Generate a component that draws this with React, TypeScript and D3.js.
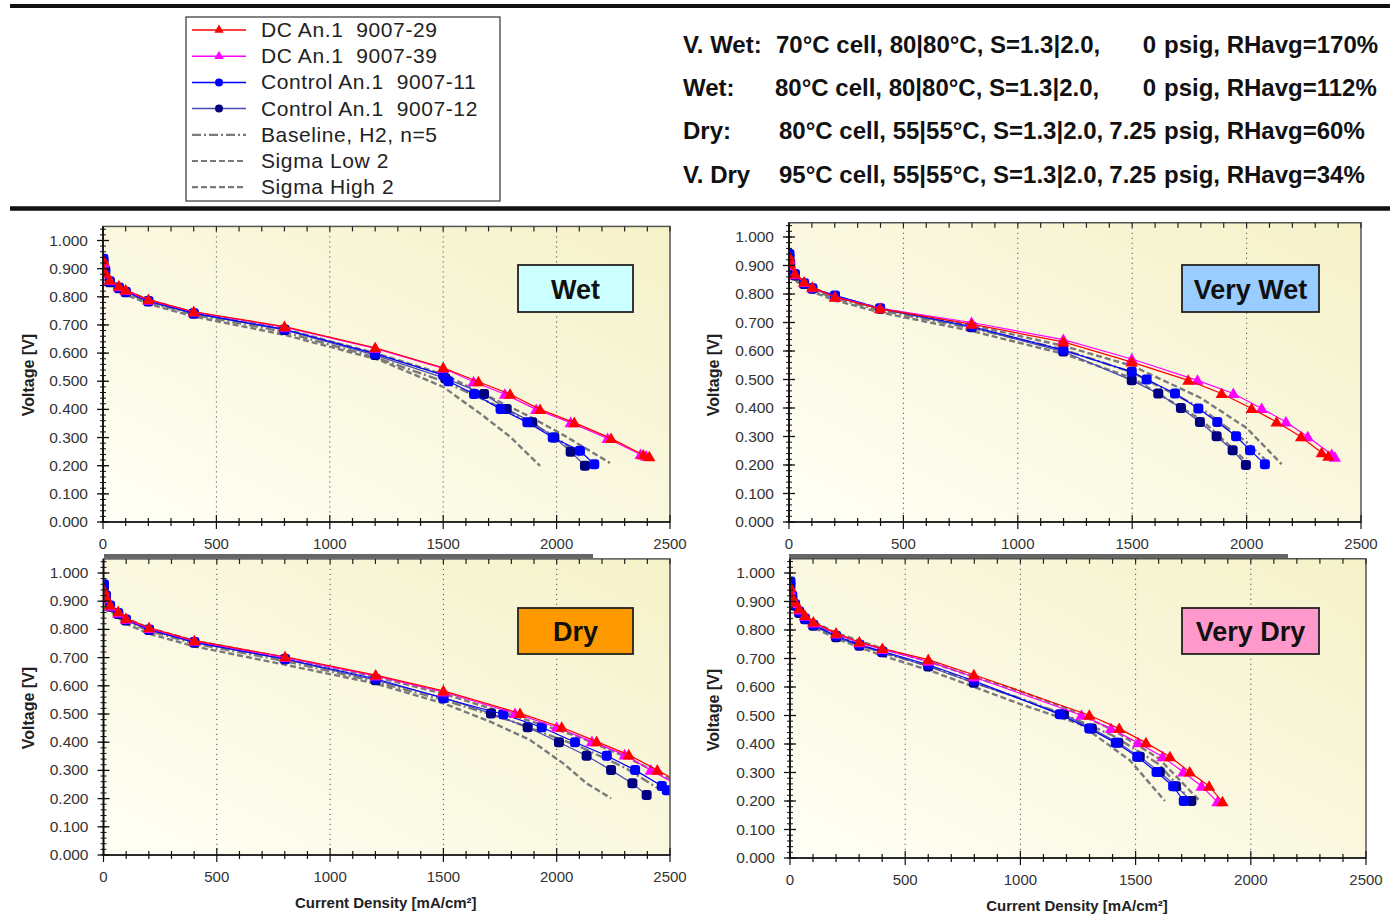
import React from 'react'
import * as d3 from 'd3'

type Pt = [number, number]

// current density [mA/cm²], voltage [V]

// Wet
const wetDC29: Pt[] = [[2, 0.93], [10, 0.885], [30, 0.86], [70, 0.838], [100, 0.824], [200, 0.79], [400, 0.747], [800, 0.694], [1200, 0.619], [1500, 0.548], [1655, 0.498], [1795, 0.454], [1927, 0.4], [2078, 0.353], [2240, 0.297], [2382, 0.238], [2409, 0.232]]
const wetDC39: Pt[] = [[2, 0.92], [10, 0.882], [30, 0.858], [70, 0.836], [100, 0.822], [200, 0.788], [400, 0.746], [800, 0.692], [1200, 0.617], [1500, 0.546], [1634, 0.498], [1772, 0.454], [1910, 0.4], [2062, 0.353], [2225, 0.297], [2370, 0.24], [2395, 0.234]]
const wetC11: Pt[] = [[2, 0.935], [10, 0.895], [30, 0.855], [70, 0.833], [100, 0.818], [200, 0.785], [400, 0.742], [800, 0.684], [1200, 0.598], [1500, 0.522], [1523, 0.5], [1636, 0.455], [1753, 0.401], [1871, 0.354], [1983, 0.3], [2103, 0.253], [2166, 0.205]]
const wetC12: Pt[] = [[2, 0.925], [10, 0.89], [30, 0.852], [70, 0.83], [100, 0.816], [200, 0.783], [400, 0.74], [800, 0.682], [1200, 0.593], [1510, 0.51], [1680, 0.455], [1780, 0.401], [1893, 0.354], [1990, 0.3], [2062, 0.25], [2125, 0.2]]
const wetBase: Pt[] = [[0, 0.93], [10, 0.88], [50, 0.84], [100, 0.815], [200, 0.782], [400, 0.737], [800, 0.675], [1200, 0.585], [1500, 0.5], [1800, 0.39], [2000, 0.3], [2100, 0.235]]
const wetSigLo: Pt[] = [[0, 0.92], [10, 0.87], [50, 0.83], [100, 0.808], [200, 0.775], [400, 0.73], [800, 0.665], [1221, 0.575], [1500, 0.48], [1662, 0.386], [1795, 0.303], [1927, 0.199]]
const wetSigHi: Pt[] = [[0, 0.94], [10, 0.89], [50, 0.85], [100, 0.822], [200, 0.789], [400, 0.744], [800, 0.685], [1200, 0.6], [1500, 0.525], [1883, 0.374], [2030, 0.309], [2235, 0.21]]

// Very Wet
const vwetDC29: Pt[] = [[2, 0.93], [5, 0.906], [26, 0.871], [66, 0.842], [102, 0.824], [201, 0.789], [398, 0.748], [798, 0.694], [1199, 0.632], [1498, 0.561], [1745, 0.497], [1891, 0.451], [2022, 0.398], [2131, 0.351], [2238, 0.299], [2328, 0.243], [2357, 0.231]]
const vwetDC39: Pt[] = [[2, 0.92], [5, 0.9], [26, 0.868], [66, 0.84], [102, 0.822], [201, 0.79], [398, 0.75], [798, 0.7], [1199, 0.64], [1498, 0.572], [1785, 0.497], [1942, 0.451], [2066, 0.398], [2172, 0.351], [2267, 0.299], [2372, 0.237], [2386, 0.227]]
const vwetC11: Pt[] = [[2, 0.94], [5, 0.91], [26, 0.87], [66, 0.838], [102, 0.82], [201, 0.795], [398, 0.75], [798, 0.686], [1199, 0.603], [1498, 0.527], [1563, 0.5], [1687, 0.451], [1789, 0.398], [1872, 0.351], [1954, 0.301], [2015, 0.252], [2080, 0.203]]
const vwetC12: Pt[] = [[2, 0.93], [5, 0.9], [26, 0.865], [66, 0.835], [102, 0.818], [201, 0.792], [398, 0.748], [798, 0.683], [1199, 0.598], [1498, 0.497], [1614, 0.451], [1713, 0.4], [1796, 0.351], [1869, 0.301], [1939, 0.252], [1997, 0.2]]
const vwetBase: Pt[] = [[0, 0.92], [10, 0.875], [50, 0.84], [100, 0.815], [200, 0.785], [400, 0.742], [800, 0.68], [1200, 0.605], [1500, 0.525], [1800, 0.4], [2000, 0.28], [2080, 0.22]]
const vwetSigLo: Pt[] = [[0, 0.91], [10, 0.865], [50, 0.83], [100, 0.808], [200, 0.778], [400, 0.735], [800, 0.67], [1200, 0.59], [1500, 0.505], [1800, 0.36], [1950, 0.25], [2000, 0.21]]
const vwetSigHi: Pt[] = [[0, 0.93], [10, 0.885], [50, 0.85], [100, 0.822], [200, 0.792], [400, 0.749], [800, 0.69], [1200, 0.618], [1500, 0.548], [1800, 0.435], [2000, 0.33], [2153, 0.203]]

// Dry
const dryDC29: Pt[] = [[2, 0.94], [11, 0.916], [29, 0.887], [65, 0.863], [99, 0.839], [201, 0.806], [401, 0.76], [801, 0.703], [1201, 0.638], [1500, 0.582], [1838, 0.502], [2022, 0.453], [2176, 0.402], [2318, 0.355], [2444, 0.301], [2560, 0.25]]
const dryDC39: Pt[] = [[2, 0.935], [11, 0.91], [29, 0.882], [65, 0.858], [99, 0.836], [201, 0.803], [401, 0.758], [801, 0.7], [1201, 0.635], [1500, 0.578], [1816, 0.502], [2000, 0.453], [2155, 0.402], [2300, 0.355], [2415, 0.301], [2530, 0.25]]
const dryC11: Pt[] = [[2, 0.96], [11, 0.92], [29, 0.885], [65, 0.858], [99, 0.835], [201, 0.8], [401, 0.755], [801, 0.695], [1201, 0.625], [1500, 0.556], [1764, 0.499], [1934, 0.453], [2081, 0.4], [2221, 0.352], [2346, 0.301], [2464, 0.245], [2486, 0.23]]
const dryC12: Pt[] = [[2, 0.95], [11, 0.915], [29, 0.88], [65, 0.855], [99, 0.832], [201, 0.798], [401, 0.753], [801, 0.694], [1201, 0.62], [1500, 0.558], [1710, 0.502], [1872, 0.453], [2010, 0.4], [2132, 0.352], [2240, 0.301], [2334, 0.254], [2397, 0.213]]
const dryBase: Pt[] = [[0, 0.93], [10, 0.9], [50, 0.86], [100, 0.83], [200, 0.795], [400, 0.75], [800, 0.688], [1200, 0.615], [1500, 0.55], [1800, 0.475], [2100, 0.385], [2300, 0.31], [2450, 0.235]]
const drySigLo: Pt[] = [[0, 0.92], [10, 0.89], [50, 0.85], [100, 0.82], [200, 0.785], [400, 0.74], [800, 0.675], [1200, 0.608], [1500, 0.538], [1700, 0.475], [1882, 0.408], [2029, 0.325], [2132, 0.254], [2240, 0.201]]
const drySigHi: Pt[] = [[0, 0.945], [10, 0.91], [50, 0.87], [100, 0.84], [200, 0.805], [400, 0.76], [800, 0.7], [1200, 0.632], [1500, 0.572], [1800, 0.497], [2100, 0.418], [2300, 0.35], [2500, 0.27]]

// Very Dry
const vdryDC29: Pt[] = [[2, 0.95], [10, 0.915], [22, 0.898], [40, 0.875], [65, 0.851], [101, 0.828], [200, 0.789], [301, 0.758], [401, 0.735], [600, 0.696], [798, 0.643], [1299, 0.501], [1429, 0.454], [1545, 0.404], [1649, 0.355], [1735, 0.302], [1819, 0.252], [1877, 0.197]]
const vdryDC39: Pt[] = [[2, 0.94], [10, 0.91], [22, 0.893], [40, 0.87], [65, 0.848], [101, 0.825], [200, 0.786], [301, 0.755], [401, 0.732], [600, 0.69], [798, 0.635], [1265, 0.501], [1393, 0.454], [1511, 0.404], [1617, 0.355], [1707, 0.302], [1786, 0.252], [1855, 0.197]]
const vdryC11: Pt[] = [[2, 0.97], [10, 0.92], [22, 0.89], [40, 0.865], [65, 0.84], [101, 0.818], [200, 0.78], [301, 0.748], [401, 0.725], [600, 0.678], [798, 0.622], [1171, 0.504], [1299, 0.454], [1414, 0.404], [1507, 0.355], [1591, 0.302], [1663, 0.252], [1709, 0.2]]
const vdryC12: Pt[] = [[2, 0.955], [10, 0.91], [22, 0.885], [40, 0.86], [65, 0.838], [101, 0.815], [200, 0.775], [301, 0.745], [401, 0.722], [600, 0.672], [798, 0.615], [1189, 0.504], [1310, 0.454], [1425, 0.404], [1518, 0.355], [1605, 0.302], [1675, 0.252], [1742, 0.2]]
const vdryBase: Pt[] = [[0, 0.94], [10, 0.9], [50, 0.85], [100, 0.82], [200, 0.78], [400, 0.72], [600, 0.675], [800, 0.615], [1000, 0.56], [1200, 0.5], [1400, 0.43], [1600, 0.33], [1720, 0.22]]
const vdrySigLo: Pt[] = [[0, 0.93], [10, 0.89], [50, 0.84], [100, 0.81], [200, 0.77], [400, 0.71], [600, 0.66], [800, 0.6], [1000, 0.54], [1258, 0.47], [1475, 0.343], [1627, 0.2]]
const vdrySigHi: Pt[] = [[0, 0.95], [10, 0.905], [50, 0.86], [100, 0.83], [200, 0.79], [400, 0.735], [600, 0.69], [800, 0.635], [1000, 0.585], [1200, 0.525], [1400, 0.45], [1600, 0.35], [1779, 0.2]]

const xTicks = [0, 500, 1000, 1500, 2000, 2500]
const xGrid = [500, 1000, 1500, 2000]
const yTicks = d3.range(0, 11).map(i => i / 10)

const legendLabels = ['DC An.1  9007-29', 'DC An.1  9007-39', 'Control An.1  9007-11', 'Control An.1  9007-12', 'Baseline, H2, n=5', 'Sigma Low 2', 'Sigma High 2']

const condLabels = ['V. Wet:', 'Wet:', 'Dry:', 'V. Dry']
const condCells = ['70°C cell, 80|80°C, S=1.3|2.0,', '80°C cell, 80|80°C, S=1.3|2.0,', '80°C cell, 55|55°C, S=1.3|2.0,', '95°C cell, 55|55°C, S=1.3|2.0,']
const condPsig = ['0', '0', '7.25', '7.25']
const condRH = ['psig, RHavg=170%', 'psig, RHavg=112%', 'psig, RHavg=60%', 'psig, RHavg=34%']

// series styles, in drawing order: sigma low, sigma high, baseline, ctrl-12, ctrl-11, dc-39, dc-29
const styles = [
  { stroke: '#7a7a7a', width: 2.4, dash: '6,3', marker: null, fill: '' },
  { stroke: '#7a7a7a', width: 2.4, dash: '6,3', marker: null, fill: '' },
  { stroke: '#7a7a7a', width: 2.4, dash: '9,3,2,3', marker: null, fill: '' },
  { stroke: '#4848b0', width: 1.2, dash: null, marker: 'sq', fill: '#000080' },
  { stroke: '#0000ff', width: 1.2, dash: null, marker: 'sq', fill: '#0000ff' },
  { stroke: '#ff00ff', width: 1.2, dash: null, marker: 'tri', fill: '#ff00ff' },
  { stroke: '#ff0000', width: 1.2, dash: null, marker: 'tri', fill: '#ff0000' },
]
// legend rows map onto the style list
const legendOrder = [6, 5, 4, 3, 2, 0, 1]

const panels = [
  { id: 'wet', name: 'Wet', fill: '#ccffff', x0: 103, x1: 670, y0: 522, y1: 240.5, tickY: 549, box: [518, 265, 115, 47], titleX: 28, titleY: 375, xTitleY: 0, series: [wetSigLo, wetSigHi, wetBase, wetC12, wetC11, wetDC39, wetDC29] },
  { id: 'vwet', name: 'Very Wet', fill: '#99ccff', x0: 789, x1: 1361, y0: 522, y1: 237, tickY: 549, box: [1182, 265, 137, 47], titleX: 713, titleY: 375, xTitleY: 0, series: [vwetSigLo, vwetSigHi, vwetBase, vwetC12, vwetC11, vwetDC39, vwetDC29] },
  { id: 'dry', name: 'Dry', fill: '#ff9900', x0: 103.5, x1: 670, y0: 855, y1: 573, tickY: 882, box: [518, 608, 115, 46], titleX: 28, titleY: 708, xTitleY: 908, series: [drySigLo, drySigHi, dryBase, dryC12, dryC11, dryDC39, dryDC29] },
  { id: 'vdry', name: 'Very Dry', fill: '#ff99cc', x0: 790, x1: 1366, y0: 858, y1: 573, tickY: 885, box: [1182, 608, 137, 46], titleX: 713, titleY: 710, xTitleY: 911, series: [vdrySigLo, vdrySigHi, vdryBase, vdryC12, vdryC11, vdryDC39, vdryDC29] },
]

const font = 'Liberation Sans, Arial, sans-serif'
const tri = d3.symbol(d3.symbolTriangle, 64)()
const legendTri = d3.symbol(d3.symbolTriangle, 38)()

function Marker({ kind, fill, cx, cy }: { kind: string, fill: string, cx: number, cy: number }) {
  if (kind === 'tri') return <path d={tri || ''} transform={`translate(${cx},${cy + 1})`} fill={fill} />
  return <rect x={cx - 5} y={cy - 5} width={10} height={10} rx={3} fill={fill} />
}

function Panel({ p }: { p: typeof panels[0] }) {
  const x = d3.scaleLinear().domain([0, 2500]).range([p.x0, p.x1])
  const y = d3.scaleLinear().domain([0, 1]).range([p.y0, p.y1])
  const top = y(1.05)
  const line = d3.line<Pt>().x(d => x(d[0])).y(d => y(d[1]))
  const minorX = d3.range(0, 2501, 100)
  const minorY = d3.range(0, 53).map(i => i * 0.02).filter(v => v <= 1.05)
  return (
    <g>
      <defs>
        <clipPath id={`clip-${p.id}`}>
          <rect x={p.x0} y={top} width={p.x1 - p.x0} height={p.y0 - top} />
        </clipPath>
      </defs>
      <rect x={p.x0} y={top} width={p.x1 - p.x0} height={p.y0 - top} fill="url(#bg)" />
      {xGrid.map(t => (
        <line key={t} x1={x(t)} x2={x(t)} y1={top} y2={p.y0} stroke="#333" strokeWidth={1} strokeDasharray="1,4" />
      ))}
      <g clipPath={`url(#clip-${p.id})`}>
        {p.series.map((s, i) => {
          const st = styles[i]
          return (
            <g key={i}>
              <path d={line(s) || ''} fill="none" stroke={st.stroke} strokeWidth={st.width} strokeDasharray={st.dash || undefined} />
              {st.marker && s.map((d, j) => (
                <Marker key={j} kind={st.marker as string} fill={st.fill} cx={x(d[0])} cy={y(d[1])} />
              ))}
            </g>
          )
        })}
      </g>
      <rect x={p.x0} y={top} width={p.x1 - p.x0} height={p.y0 - top} fill="none" stroke="#555" strokeWidth={1.5} />
      {/* top edge ticks */}
      {minorX.map(t => (
        <line key={'tt' + t} x1={x(t)} x2={x(t)} y1={top} y2={top + 5} stroke="#222" strokeWidth={1.2} />
      ))}
      {/* x axis */}
      <line x1={p.x0} x2={p.x1} y1={p.y0} y2={p.y0} stroke="#111" strokeWidth={1.6} />
      {minorX.map(t => (
        <line key={'bx' + t} x1={x(t)} x2={x(t)} y1={p.y0 - (t % 500 === 0 ? 7 : 4)} y2={p.y0 + (t % 500 === 0 ? 7 : 4)} stroke="#111" strokeWidth={1.2} />
      ))}
      {xTicks.map(t => (
        <text key={'xl' + t} x={x(t)} y={p.tickY} textAnchor="middle" fontFamily={font} fontSize={15} fill="#333">{t}</text>
      ))}
      {/* y axis */}
      <line x1={p.x0} x2={p.x0} y1={top} y2={p.y0} stroke="#111" strokeWidth={1.8} />
      {minorY.map((t, i) => (
        <line key={'my' + i} x1={p.x0 - 3} x2={p.x0 + 3} y1={y(t)} y2={y(t)} stroke="#111" strokeWidth={1} />
      ))}
      {yTicks.map(t => (
        <line key={'My' + t} x1={p.x0 - 6} x2={p.x0 + 6} y1={y(t)} y2={y(t)} stroke="#111" strokeWidth={1.3} />
      ))}
      {yTicks.map(t => (
        <text key={'yl' + t} x={p.x0 - 15} y={y(t) + 5} textAnchor="end" fontFamily={font} fontSize={15.5} fill="#333">{d3.format('.3f')(t)}</text>
      ))}
      <text transform={`translate(${p.titleX},${p.titleY}) rotate(-90)`} textAnchor="middle" dominantBaseline="central" fontFamily={font} fontWeight="bold" fontSize={16} fill="#222">Voltage [V]</text>
      {p.xTitleY > 0 && (
        <text x={(p.x0 + p.x1) / 2 - 1} y={p.xTitleY} textAnchor="middle" fontFamily={font} fontWeight="bold" fontSize={15} fill="#222">Current Density [mA/cm²]</text>
      )}
      <rect x={p.box[0]} y={p.box[1]} width={p.box[2]} height={p.box[3]} fill={p.fill} stroke="#222" strokeWidth={1.8} />
      <text x={p.box[0] + p.box[2] / 2} y={p.box[1] + p.box[3] / 2 + 10} textAnchor="middle" fontFamily={font} fontWeight="bold" fontSize={27} fill="#111">{p.name}</text>
    </g>
  )
}

function Legend() {
  const rowY = (i: number) => 30 + i * 26.2
  return (
    <g>
      <rect x={186} y={17} width={314} height={184} fill="#fff" stroke="#333" strokeWidth={1.2} />
      {legendLabels.map((lab, i) => {
        const s = styles[legendOrder[i]]
        const yy = rowY(i)
        return (
          <g key={lab}>
            <line x1={192} x2={246} y1={yy} y2={yy} stroke={s.stroke} strokeWidth={s.marker ? 1.5 : 2.2} strokeDasharray={s.dash || undefined} />
            {s.marker === 'tri' && <path d={legendTri || ''} transform={`translate(219,${yy})`} fill={s.fill} />}
            {s.marker === 'sq' && <circle cx={219} cy={yy} r={4} fill={s.fill} />}
            <text x={261} y={yy + 7} fontFamily={font} fontSize={21} letterSpacing={0.6} fill="#222" style={{ whiteSpace: 'pre' }}>{lab}</text>
          </g>
        )
      })}
    </g>
  )
}

function Conditions() {
  const rows = [52.5, 95.5, 138.5, 182.5]
  const cellX = [776, 775, 779, 779]
  return (
    <g fontFamily={font} fontWeight="bold" fontSize={24} fill="#111">
      {rows.map((yy, i) => (
        <g key={i}>
          <text x={683} y={yy}>{condLabels[i]}</text>
          <text x={cellX[i]} y={yy}>{condCells[i]}</text>
          <text x={1156} y={yy} textAnchor="end">{condPsig[i]}</text>
          <text x={1164} y={yy}>{condRH[i]}</text>
        </g>
      ))}
    </g>
  )
}

export default function App() {
  return (
    <svg width={1390} height={915} style={{ position: 'absolute', left: 0, top: 0, background: '#fff' }}>
      <defs>
        <linearGradient id="bg" x1="0" y1="1" x2="1" y2="0">
          <stop offset="0%" stopColor="#fffff6" />
          <stop offset="100%" stopColor="#f5f1c8" />
        </linearGradient>
      </defs>
      <line x1={10} x2={1390} y1={6} y2={6} stroke="#111" strokeWidth={4} />
      <line x1={10} x2={1390} y1={208.5} y2={208.5} stroke="#111" strokeWidth={4.5} />
      <Legend />
      <Conditions />
      <line x1={104} x2={593} y1={556} y2={556} stroke="#666" strokeWidth={4} />
      <line x1={789} x2={1288} y1={556} y2={556} stroke="#666" strokeWidth={4} />
      {panels.map(p => <Panel key={p.id} p={p} />)}
    </svg>
  )
}
